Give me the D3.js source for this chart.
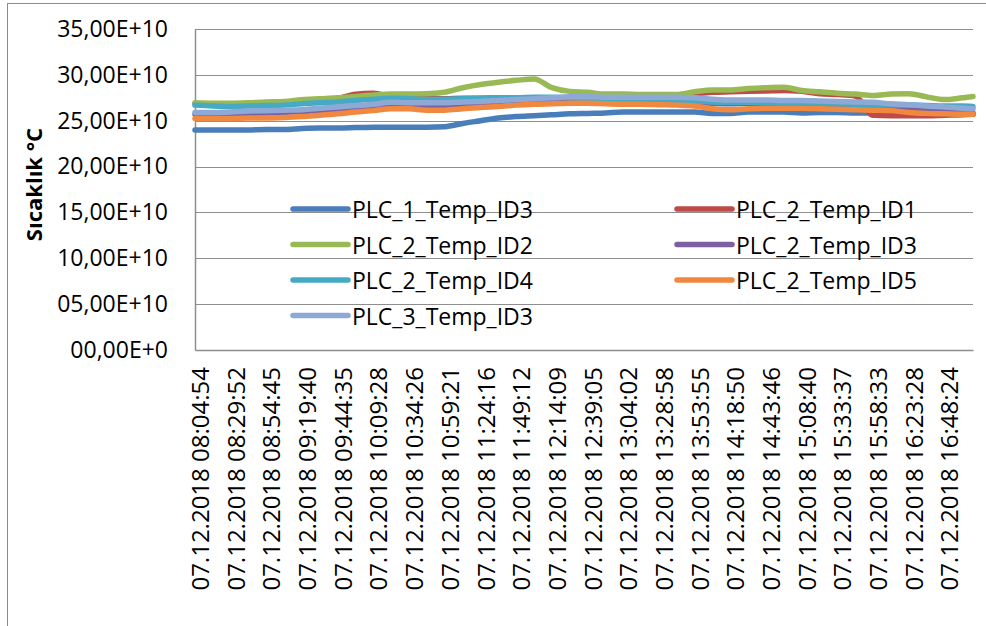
<!DOCTYPE html>
<html>
<head>
<meta charset="utf-8">
<script src="https://cdn.jsdelivr.net/npm/d3@7"></script>
<style>
  html, body { margin: 0; padding: 0; background: #fff; }
  svg { display: block; }
  text { font-family: "Open Sans", "Liberation Sans", sans-serif; fill: #000; }
</style>
</head>
<body>
<svg id="chart" width="986" height="626"></svg>
<script>
// ---- DATA ----
const xLabels = [
  "07.12.2018 08:04:54", "07.12.2018 08:29:52", "07.12.2018 08:54:45", "07.12.2018 09:19:40",
  "07.12.2018 09:44:35", "07.12.2018 10:09:28", "07.12.2018 10:34:26", "07.12.2018 10:59:21",
  "07.12.2018 11:24:16", "07.12.2018 11:49:12", "07.12.2018 12:14:09", "07.12.2018 12:39:05",
  "07.12.2018 13:04:02", "07.12.2018 13:28:58", "07.12.2018 13:53:55", "07.12.2018 14:18:50",
  "07.12.2018 14:43:46", "07.12.2018 15:08:40", "07.12.2018 15:33:37", "07.12.2018 15:58:33",
  "07.12.2018 16:23:28", "07.12.2018 16:48:24"
];
const categoryCount = 110;      // number of readings on the category axis
const labelEvery = 5;           // one label every 5 readings
const sampleIdx = [0,2.5,5,7.5,10,12.5,15,17.5,20,22.5,25,27.5,30,32.5,35,37.5,40,42.5,45,47.5,50,52.5,55,57.5,60,62.5,65,67.5,70,72.5,75,77.5,80,82.5,85,87.5,90,92.5,95,97.5,100,102.5,105,107.5,109];

const seriesNames = ["PLC_1_Temp_ID3","PLC_2_Temp_ID1","PLC_2_Temp_ID2","PLC_2_Temp_ID3","PLC_2_Temp_ID4","PLC_2_Temp_ID5","PLC_3_Temp_ID3"];
const seriesColors = ["#4A7EBB","#BE4B48","#98B954","#7D60A0","#46AAC5","#F0883F","#8EA9D6"];

const plc1_id3 = [24.0,24.0,24.0,24.0,24.05,24.05,24.15,24.2,24.2,24.25,24.3,24.3,24.3,24.3,24.35,24.7,25.0,25.3,25.45,25.55,25.65,25.75,25.8,25.85,25.95,25.95,25.95,25.95,25.95,25.8,25.8,25.95,25.95,25.95,25.85,25.9,25.9,25.85,25.85,25.8,25.75,25.7,25.7,25.7,25.7];
const plc2_id1 = [26.85,26.8,26.8,26.85,26.95,27.0,27.2,27.3,27.45,27.9,28.0,27.6,27.45,27.4,27.4,27.45,27.45,27.5,27.5,27.5,27.5,27.45,27.45,27.4,27.4,27.4,27.4,27.45,27.9,28.1,28.15,28.2,28.25,28.3,28.2,27.95,27.85,27.7,25.6,25.55,25.55,25.55,25.6,25.65,25.7];
const plc2_id2 = [26.95,26.9,26.9,26.95,27.05,27.1,27.3,27.4,27.5,27.65,27.8,27.9,27.9,27.95,28.1,28.6,28.95,29.2,29.4,29.55,28.6,28.2,28.1,27.9,27.9,27.85,27.85,27.85,28.15,28.35,28.35,28.5,28.6,28.65,28.3,28.15,28.0,27.9,27.75,27.9,27.95,27.6,27.3,27.5,27.65];
const plc2_id3 = [25.7,25.7,25.75,25.8,25.85,25.9,26.0,26.1,26.25,26.35,26.5,26.6,26.55,26.5,26.5,26.6,26.7,26.8,26.9,26.95,27.0,27.05,27.1,27.1,27.1,27.05,27.0,27.0,26.95,26.9,26.85,26.9,26.9,26.85,26.8,26.7,26.6,26.5,26.45,26.35,26.25,26.1,26.0,25.9,25.85];
const plc2_id4 = [26.7,26.6,26.55,26.6,26.65,26.7,26.85,26.95,27.05,27.2,27.35,27.45,27.4,27.3,27.35,27.4,27.45,27.5,27.5,27.55,27.55,27.5,27.45,27.3,27.3,27.25,27.2,27.2,27.15,27.05,27.0,27.0,27.0,26.95,26.95,26.9,26.85,26.8,26.75,26.75,26.7,26.65,26.6,26.6,26.55];
const plc2_id5 = [25.25,25.25,25.25,25.3,25.3,25.35,25.45,25.6,25.75,25.95,26.1,26.3,26.3,26.15,26.15,26.3,26.45,26.55,26.7,26.8,26.85,26.9,26.9,26.85,26.8,26.8,26.75,26.7,26.6,26.3,26.2,26.3,26.35,26.35,26.35,26.3,26.25,26.2,26.15,26.1,25.9,25.8,25.75,25.7,25.7];
const plc3_id3 = [25.9,25.9,25.95,26.05,26.1,26.15,26.2,26.35,26.5,26.65,26.8,27.0,26.95,26.95,26.95,27.05,27.1,27.2,27.3,27.4,27.5,27.6,27.6,27.55,27.55,27.55,27.55,27.55,27.5,27.35,27.25,27.25,27.25,27.2,27.2,27.15,27.1,27.05,27.0,26.85,26.75,26.6,26.5,26.35,26.3];

const yTicks = [0,5,10,15,20,25,30,35];
const yTickLabels = ["00,00E+0","05,00E+10","10,00E+10","15,00E+10","20,00E+10","25,00E+10","30,00E+10","35,00E+10"];
const yTitle = "Sıcaklık °C";

// ---- CHART ----
const seriesValues = [plc1_id3, plc2_id1, plc2_id2, plc2_id3, plc2_id4, plc2_id5, plc3_id3];
const svg = d3.select("#chart");
const plot = { left: 195, right: 973, top: 29, bottom: 350 };

// outer chart border
svg.append("rect").attr("x", 7.5).attr("y", 3.5).attr("width", 1000).attr("height", 700)
  .attr("fill", "none").attr("stroke", "#8c8c8c").attr("stroke-width", 1);

const x = d3.scaleLinear().domain([0, categoryCount - 1]).range([plot.left, plot.right]);
const y = d3.scaleLinear().domain([0, 35]).range([plot.bottom, plot.top]);

// gridlines
svg.append("g").selectAll("line").data(yTicks.filter(d => d > 0)).join("line")
  .attr("x1", plot.left).attr("x2", plot.right)
  .attr("y1", d => Math.round(y(d)) + 0.5).attr("y2", d => Math.round(y(d)) + 0.5)
  .attr("stroke", "#8e8e8e").attr("stroke-width", 1.2);

// y axis
const yAxis = svg.append("g").attr("transform", `translate(${plot.left},0)`)
  .call(d3.axisLeft(y).tickValues(yTicks).tickSize(0).tickPadding(27)
    .tickFormat((d, i) => yTickLabels[i]));
yAxis.select(".domain").attr("stroke", "#8e8e8e").attr("stroke-width", 1.5);
yAxis.selectAll("text").attr("font-size", 23).attr("fill", "#000")
  .attr("font-family", "'Open Sans', sans-serif");

// x axis
const tickIdx = d3.range(0, xLabels.length).map(k => k * labelEvery);
const xAxis = svg.append("g").attr("transform", `translate(0,${plot.bottom})`)
  .call(d3.axisBottom(x).tickValues(tickIdx).tickSize(0)
    .tickFormat((d, i) => xLabels[i]));
xAxis.select(".domain").attr("stroke", "#8e8e8e").attr("stroke-width", 1.5);
xAxis.selectAll("text")
  .attr("font-size", 24).attr("fill", "#000")
  .attr("font-family", "'Open Sans', sans-serif")
  .attr("text-anchor", "end")
  .attr("dy", null)
  .attr("dominant-baseline", "central")
  .attr("transform", "translate(4,17) rotate(-90)")
  .attr("x", 0).attr("y", 0);

// y title
svg.append("text")
  .attr("transform", `translate(33,${(plot.top + plot.bottom) / 2 - 5}) rotate(-90)`)
  .attr("text-anchor", "middle").attr("dominant-baseline", "central")
  .attr("font-weight", "bold").attr("font-size", 22)
  .text(yTitle);

// lines
const line = d3.line()
  .x((d, i) => x(sampleIdx[i]))
  .y(d => y(d))
  .curve(d3.curveMonotoneX);

svg.append("g").selectAll("path").data(seriesValues).join("path")
  .attr("d", d => line(d))
  .attr("fill", "none")
  .attr("stroke", (d, i) => seriesColors[i])
  .attr("stroke-width", 5.5)
  .attr("stroke-linecap", "round")
  .attr("stroke-linejoin", "round");

// legend
const legendCols = [293, 677];
const legendRow0 = 209, legendRowStep = 35.5;
const legend = svg.append("g").selectAll("g").data(seriesNames).join("g")
  .attr("transform", (d, i) => `translate(${legendCols[i % 2]},${legendRow0 + Math.floor(i / 2) * legendRowStep})`);
legend.append("line").attr("x1", 0).attr("x2", 55).attr("y1", 0).attr("y2", 0)
  .attr("stroke", (d, i) => seriesColors[i]).attr("stroke-width", 5.5).attr("stroke-linecap", "round");
legend.append("text").attr("x", 59).attr("y", 0).attr("dominant-baseline", "central")
  .attr("font-size", 23).text(d => d);
</script>
</body>
</html>
